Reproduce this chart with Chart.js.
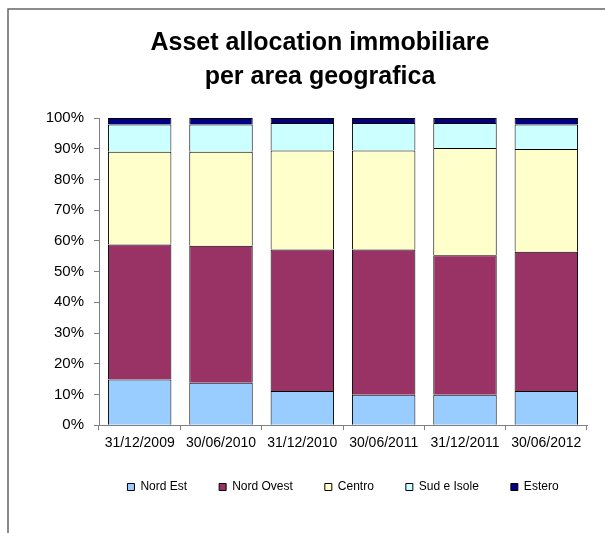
<!DOCTYPE html>
<html>
<head>
<meta charset="utf-8">
<script src="https://cdn.jsdelivr.net/npm/chart.js@4"></script>
<style>
  html, body { margin: 0; padding: 0; background: #fff; }
  #wrap { position: relative; width: 605px; height: 533px; }
</style>
</head>
<body>
<div id="wrap"><canvas id="chart" width="605" height="533"></canvas></div>
<script>
// dati (valori in %)
const categories = ['31/12/2009', '30/06/2010', '31/12/2010', '30/06/2011', '31/12/2011', '30/06/2012'];
const nordEst   = [14.9, 13.8, 11.1,  9.9,  9.9, 11.1];
const nordOvest = [43.9, 44.6, 46.1, 47.3, 45.4, 45.4];
const centro    = [30.2, 30.6, 32.2, 32.2, 34.9, 33.4];
const sudIsole  = [ 8.9,  8.9,  9.0,  9.0,  8.2,  8.0];
const estero    = [ 2.1,  2.1,  1.6,  1.6,  1.6,  2.1];
const yTicks    = [0, 10, 20, 30, 40, 50, 60, 70, 80, 90, 100];

const FONT = "'Liberation Sans', Arial, sans-serif";

const framePlugin = {
    id: 'frame',
    afterLayout(chart) {
        // legenda centrata sull'area del grafico, titolo un po' a destra
        const lg = chart.legend, ca = chart.chartArea, tt = chart.titleBlock;
        if (!ca) return;
        if (lg) {
            const shift = (ca.left + ca.right) / 2 - (lg.left + lg.right) / 2;
            lg.left += shift;
            lg.right += shift;
        }
        if (tt) {
            const shiftT = 320 - (tt.left + tt.right) / 2;
            tt.left += shiftT;
            tt.right += shiftT;
        }
    },
    beforeDraw(chart) {
        // cornice esterna (bordo sinistro e superiore)
        const ctx = chart.ctx;
        ctx.save();
        ctx.strokeStyle = '#666666';
        ctx.lineWidth = 1.5;
        ctx.beginPath();
        ctx.moveTo(8, 533);
        ctx.lineTo(8, 9);
        ctx.lineTo(605, 9);
        ctx.stroke();
        ctx.restore();
    }
};

function serie(label, data, color) {
    return {
        label: label,
        data: data,
        backgroundColor: color,
        borderColor: '#000000',
        borderWidth: 1,
        categoryPercentage: 0.78,
        barPercentage: 1
    };
}

new Chart(document.getElementById('chart'), {
    type: 'bar',
    data: {
        labels: categories,
        datasets: [
            serie('Nord Est', nordEst, '#99CCFF'),
            serie('Nord Ovest', nordOvest, '#993366'),
            serie('Centro', centro, '#FFFFCC'),
            serie('Sud e Isole', sudIsole, '#CCFFFF'),
            serie('Estero', estero, '#000080')
        ]
    },
    plugins: [framePlugin],
    options: {
        responsive: false,
        animation: false,
        layout: { padding: { left: 20, right: 18, top: 0, bottom: 30 } },
        plugins: {
            title: {
                display: true,
                text: ['Asset allocation immobiliare', 'per area geografica'],
                color: '#000',
                font: { family: FONT, size: 25, weight: 'bold', lineHeight: 1.36 },
                padding: { top: 26, bottom: 24 }
            },
            legend: {
                position: 'bottom',
                labels: {
                    color: '#000',
                    font: { family: FONT, size: 12 },
                    boxWidth: 7,
                    boxHeight: 7,
                    padding: 32
                }
            },
            tooltip: { enabled: false }
        },
        scales: {
            x: {
                stacked: true,
                afterFit(scale) { scale.height -= 8; },
                border: { color: '#808080', width: 1 },
                grid: { drawOnChartArea: false, tickLength: 5, color: '#808080', offset: true },
                ticks: { color: '#000', font: { family: FONT, size: 14 }, padding: 5, maxRotation: 0, autoSkip: false }
            },
            y: {
                stacked: true,
                min: 0,
                max: 100,
                afterBuildTicks(scale) {
                    scale.ticks = yTicks.map(v => ({ value: v }));
                },
                afterFit(scale) { scale.width = 79; },
                border: { color: '#808080', width: 1 },
                grid: { drawOnChartArea: false, tickLength: 5, color: '#808080' },
                ticks: {
                    color: '#000',
                    font: { family: FONT, size: 15 },
                    padding: 10,
                    callback: v => v + '%'
                }
            }
        }
    }
});
</script>
</body>
</html>
